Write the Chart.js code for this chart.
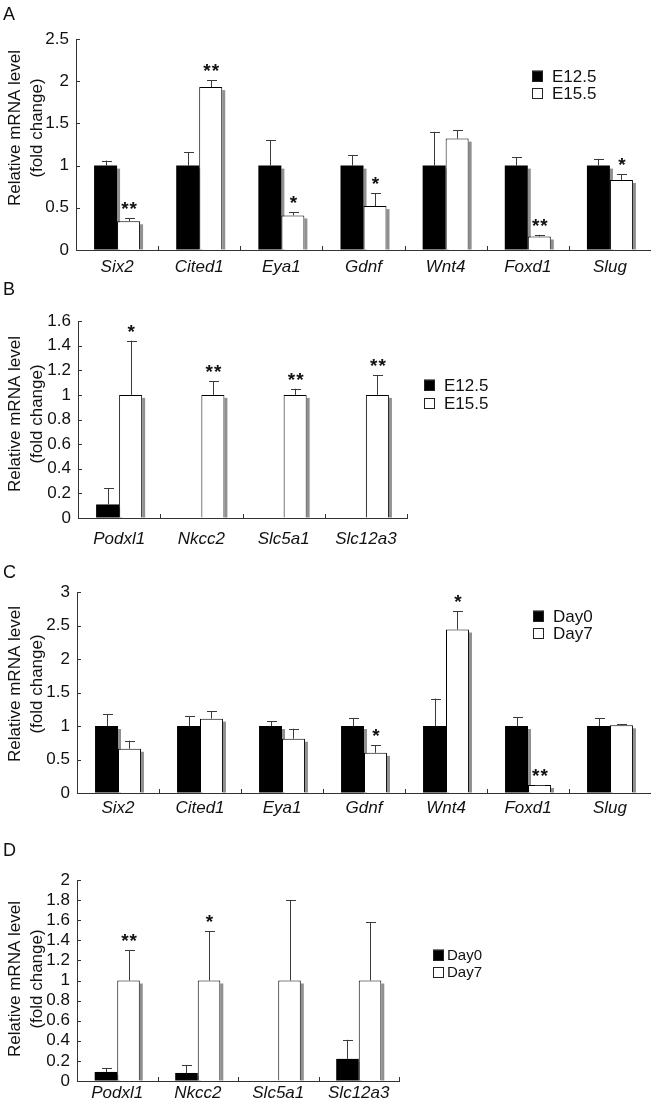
<!DOCTYPE html>
<html><head><meta charset="utf-8">
<script src="https://cdn.jsdelivr.net/npm/chart.js@4.4.1/dist/chart.umd.min.js"></script>
<style>
html,body{margin:0;padding:0;background:#fff;}
#wrap{position:relative;width:651px;height:1103px;overflow:hidden;font-family:"Liberation Sans",Arial,sans-serif;}
canvas{position:absolute;left:0;}
.lbl{position:absolute;left:3px;font-size:18px;line-height:18px;color:#111;}
</style></head><body>
<div id="wrap">
<canvas id="cA" width="651" height="285" style="top:0px"></canvas>
<canvas id="cB" width="651" height="265" style="top:285px"></canvas>
<canvas id="cC" width="651" height="280" style="top:550px"></canvas>
<canvas id="cD" width="651" height="273" style="top:830px"></canvas>
<div class="lbl" style="top:5px">A</div>
<div class="lbl" style="top:280px">B</div>
<div class="lbl" style="top:563px">C</div>
<div class="lbl" style="top:841px">D</div>
</div>
<script>
// ---- categories ----
const genesAC = ['Six2','Cited1','Eya1','Gdnf','Wnt4','Foxd1','Slug'];
const genesBD = ['Podxl1','Nkcc2','Slc5a1','Slc12a3'];
const seriesAB = ['E12.5','E15.5'];
const seriesCD = ['Day0','Day7'];
const yTitle = ['Relative mRNA level','(fold change)'];

// ---- panel A ----
const aE125    = [1, 1, 1, 1, 1, 1, 1];
const aE125Err = [1.06, 1.16, 1.30, 1.12, 1.40, 1.10, 1.08];
const aE155    = [0.34, 1.93, 0.41, 0.52, 1.32, 0.16, 0.83];
const aE155Err = [0.38, 2.01, 0.45, 0.67, 1.42, 0.18, 0.90];
const aSig     = ['**', '**', '*', '*', '', '**', '*'];
const aTicks   = [0, 0.5, 1, 1.5, 2, 2.5];

// ---- panel B ----
const bE125    = [0.11, 0, 0, 0];
const bE125Err = [0.24, null, null, null];
const bE155    = [1, 1, 1, 1];
const bE155Err = [1.44, 1.11, 1.05, 1.16];
const bSig     = ['*', '**', '**', '**'];
const bTicks   = [0, 0.2, 0.4, 0.6, 0.8, 1, 1.2, 1.4, 1.6];

// ---- panel C ----
const cDay0    = [1, 1, 1, 1, 1, 1, 1];
const cDay0Err = [1.18, 1.15, 1.07, 1.12, 1.41, 1.13, 1.12];
const cDay7    = [0.66, 1.11, 0.81, 0.60, 2.44, 0.12, 1.01];
const cDay7Err = [0.78, 1.22, 0.96, 0.71, 2.71, 0.12, 1.03];
const cSig     = ['', '', '', '*', '*', '**', ''];
const cTicks   = [0, 0.5, 1, 1.5, 2, 2.5, 3];

// ---- panel D ----
const dDay0    = [0.09, 0.08, 0, 0.22];
const dDay0Err = [0.13, 0.16, null, 0.41];
const dDay7    = [1, 1, 1, 1];
const dDay7Err = [1.30, 1.49, 1.80, 1.58];
const dSig     = ['**', '*', '', ''];
const dTicks   = [0, 0.2, 0.4, 0.6, 0.8, 1, 1.2, 1.4, 1.6, 1.8, 2];

const FONT = '"Liberation Sans", Arial, sans-serif';
const INK = '#111';
const AXIS = '#333';

const decor = {
  id: 'decor',
  beforeDatasetsDraw(chart) {
    const ctx = chart.ctx;
    ctx.save();
    ctx.fillStyle = '#909090';
    chart.data.datasets.forEach((ds, i) => {
      chart.getDatasetMeta(i).data.forEach(bar => {
        const p = bar.getProps(['x', 'y', 'base', 'width'], true);
        if (p.base - p.y < 2) return;
        ctx.fillRect(p.x + p.width / 2, p.y + 3, 3, p.base - p.y - 3);
      });
    });
    ctx.restore();
  },
  afterDatasetsDraw(chart) {
    const ctx = chart.ctx;
    const ys = chart.scales.y;
    ctx.save();
    chart.data.datasets.forEach((ds, i) => {
      chart.getDatasetMeta(i).data.forEach((bar, j) => {
        const p = bar.getProps(['x', 'y'], true);
        const e = ds.errTop ? ds.errTop[j] : null;
        let topY = p.y;
        if (e !== null && e !== undefined) {
          const ye = ys.getPixelForValue(e);
          ctx.strokeStyle = '#3a3a3a';
          ctx.lineWidth = 1;
          ctx.beginPath();
          ctx.moveTo(Math.round(p.x) + 0.5, p.y);
          ctx.lineTo(Math.round(p.x) + 0.5, ye);
          ctx.moveTo(Math.round(p.x) - 4, Math.round(ye) + 0.5);
          ctx.lineTo(Math.round(p.x) + 6, Math.round(ye) + 0.5);
          ctx.stroke();
          topY = ye;
        }
        const s = ds.sig ? ds.sig[j] : '';
        if (s) {
          ctx.fillStyle = INK;
          ctx.font = 'bold 19px ' + FONT;
          ctx.textAlign = 'center';
          ctx.textBaseline = 'alphabetic';
          ctx.letterSpacing = '1px';
          ctx.fillText(s, p.x + 1, topY - 3);
          ctx.letterSpacing = '0px';
        }
      });
    });
    ctx.restore();
  },
  afterDraw(chart) {
    const ctx = chart.ctx;
    const o = chart.options.plugins.decor;
    const xs = chart.scales.x, ys = chart.scales.y;
    ctx.save();
    // inward tick marks
    ctx.strokeStyle = AXIS;
    ctx.lineWidth = 1;
    ctx.beginPath();
    ys.ticks.forEach((t, i) => {
      const y = Math.round(ys.getPixelForTick(i)) + 0.5;
      ctx.moveTo(ys.right, y);
      ctx.lineTo(ys.right + 4, y);
    });
    const n = chart.data.labels.length;
    for (let i = 1; i <= n; i++) {
      const x = Math.round(xs.getPixelForValue(i - 0.5)) + 0.5;
      ctx.moveTo(x, xs.top);
      ctx.lineTo(x, xs.top - 4);
    }
    ctx.stroke();
    // y-axis title (two lines, rotated)
    ctx.save();
    ctx.fillStyle = INK;
    ctx.font = '17px ' + FONT;
    ctx.textAlign = 'center';
    ctx.textBaseline = 'middle';
    yTitle.forEach((line, k) => {
      ctx.save();
      ctx.translate(o.titleX[k], o.titleY);
      ctx.rotate(-Math.PI / 2);
      ctx.fillText(line, 0, 0);
      ctx.restore();
    });
    ctx.restore();
    // legend
    ctx.font = o.legendFont + 'px ' + FONT;
    ctx.textBaseline = 'middle';
    ctx.textAlign = 'left';
    chart.data.datasets.forEach((ds, i) => {
      const ry = o.legendRows[i];
      const sq = 11;
      ctx.fillStyle = ds.backgroundColor;
      ctx.fillRect(o.legendX, ry - sq / 2, sq, sq);
      ctx.strokeStyle = '#222';
      ctx.strokeRect(o.legendX + 0.5, Math.round(ry - sq / 2) + 0.5, sq - 1, sq - 1);
      ctx.fillStyle = INK;
      ctx.fillText(ds.label, o.legendX + o.legendGap, ry + 1);
    });
    ctx.restore();
  }
};

function build(id, labels, names, v1, e1, v2, e2, sig, ticks, geo) {
  new Chart(document.getElementById(id), {
    type: 'bar',
    data: {
      labels: labels,
      datasets: [
        { label: names[0], data: v1, errTop: e1, sig: null,
          backgroundColor: '#000', borderWidth: 0 },
        { label: names[1], data: v2, errTop: e2, sig: sig,
          backgroundColor: '#fff', borderColor: '#000', borderWidth: 1, borderSkipped: 'bottom' }
      ]
    },
    options: {
      responsive: false,
      animation: false,
      events: [],
      layout: { padding: { left: 0, right: geo.pr, top: geo.pt, bottom: geo.pb } },
      datasets: { bar: { categoryPercentage: 0.56, barPercentage: 1.0 } },
      plugins: {
        legend: { display: false },
        tooltip: { enabled: false },
        decor: { legendX: geo.lx, legendRows: geo.lrows, legendFont: geo.lf, legendGap: geo.lg,
                 titleX: [15, 37], titleY: geo.ty }
      },
      scales: {
        x: {
          grid: { display: true, drawOnChartArea: false, drawTicks: false },
          border: { display: true, color: AXIS, width: 1 },
          ticks: { color: INK, padding: geo.xpad, font: { family: FONT, size: 17, style: 'italic' }, maxRotation: 0, autoSkip: false },
          afterFit: s => { s.height = geo.xh; }
        },
        y: {
          min: ticks[0], max: ticks[ticks.length - 1],
          afterBuildTicks: s => { s.ticks = ticks.map(v => ({ value: v })); },
          grid: { display: true, drawOnChartArea: false, drawTicks: false },
          border: { display: true, color: AXIS, width: 1 },
          ticks: { color: INK, padding: 7, autoSkip: false, font: { family: FONT, size: 17 }, callback: v => String(v) },
          title: { display: false },
          afterFit: s => { s.width = geo.left; }
        }
      }
    },
    plugins: [decor]
  });
}

build('cA', genesAC, seriesAB, aE125, aE125Err, aE155, aE155Err, aSig, aTicks,
  { left: 76, pr: 0, pt: 39, pb: 5, xh: 30, xpad: 7, lx: 532, lrows: [76, 93], lf: 17, lg: 20, ty: 128 });
build('cB', genesBD, seriesAB, bE125, bE125Err, bE155, bE155Err, bSig, bTicks,
  { left: 78, pr: 244, pt: 36, pb: 2, xh: 30, xpad: 11, lx: 424, lrows: [100, 118], lf: 17, lg: 20, ty: 129 });
build('cC', genesAC, seriesCD, cDay0, cDay0Err, cDay7, cDay7Err, cSig, cTicks,
  { left: 77, pr: 0, pt: 42, pb: 7, xh: 30, xpad: 5, lx: 533, lrows: [66, 83], lf: 17, lg: 20, ty: 134 });
build('cD', genesBD, seriesCD, dDay0, dDay0Err, dDay7, dDay7Err, dSig, dTicks,
  { left: 77, pr: 252, pt: 50, pb: 2, xh: 20, xpad: 2, lx: 433, lrows: [125, 142], lf: 15, lg: 14, ty: 149 });
</script>
</body></html>
